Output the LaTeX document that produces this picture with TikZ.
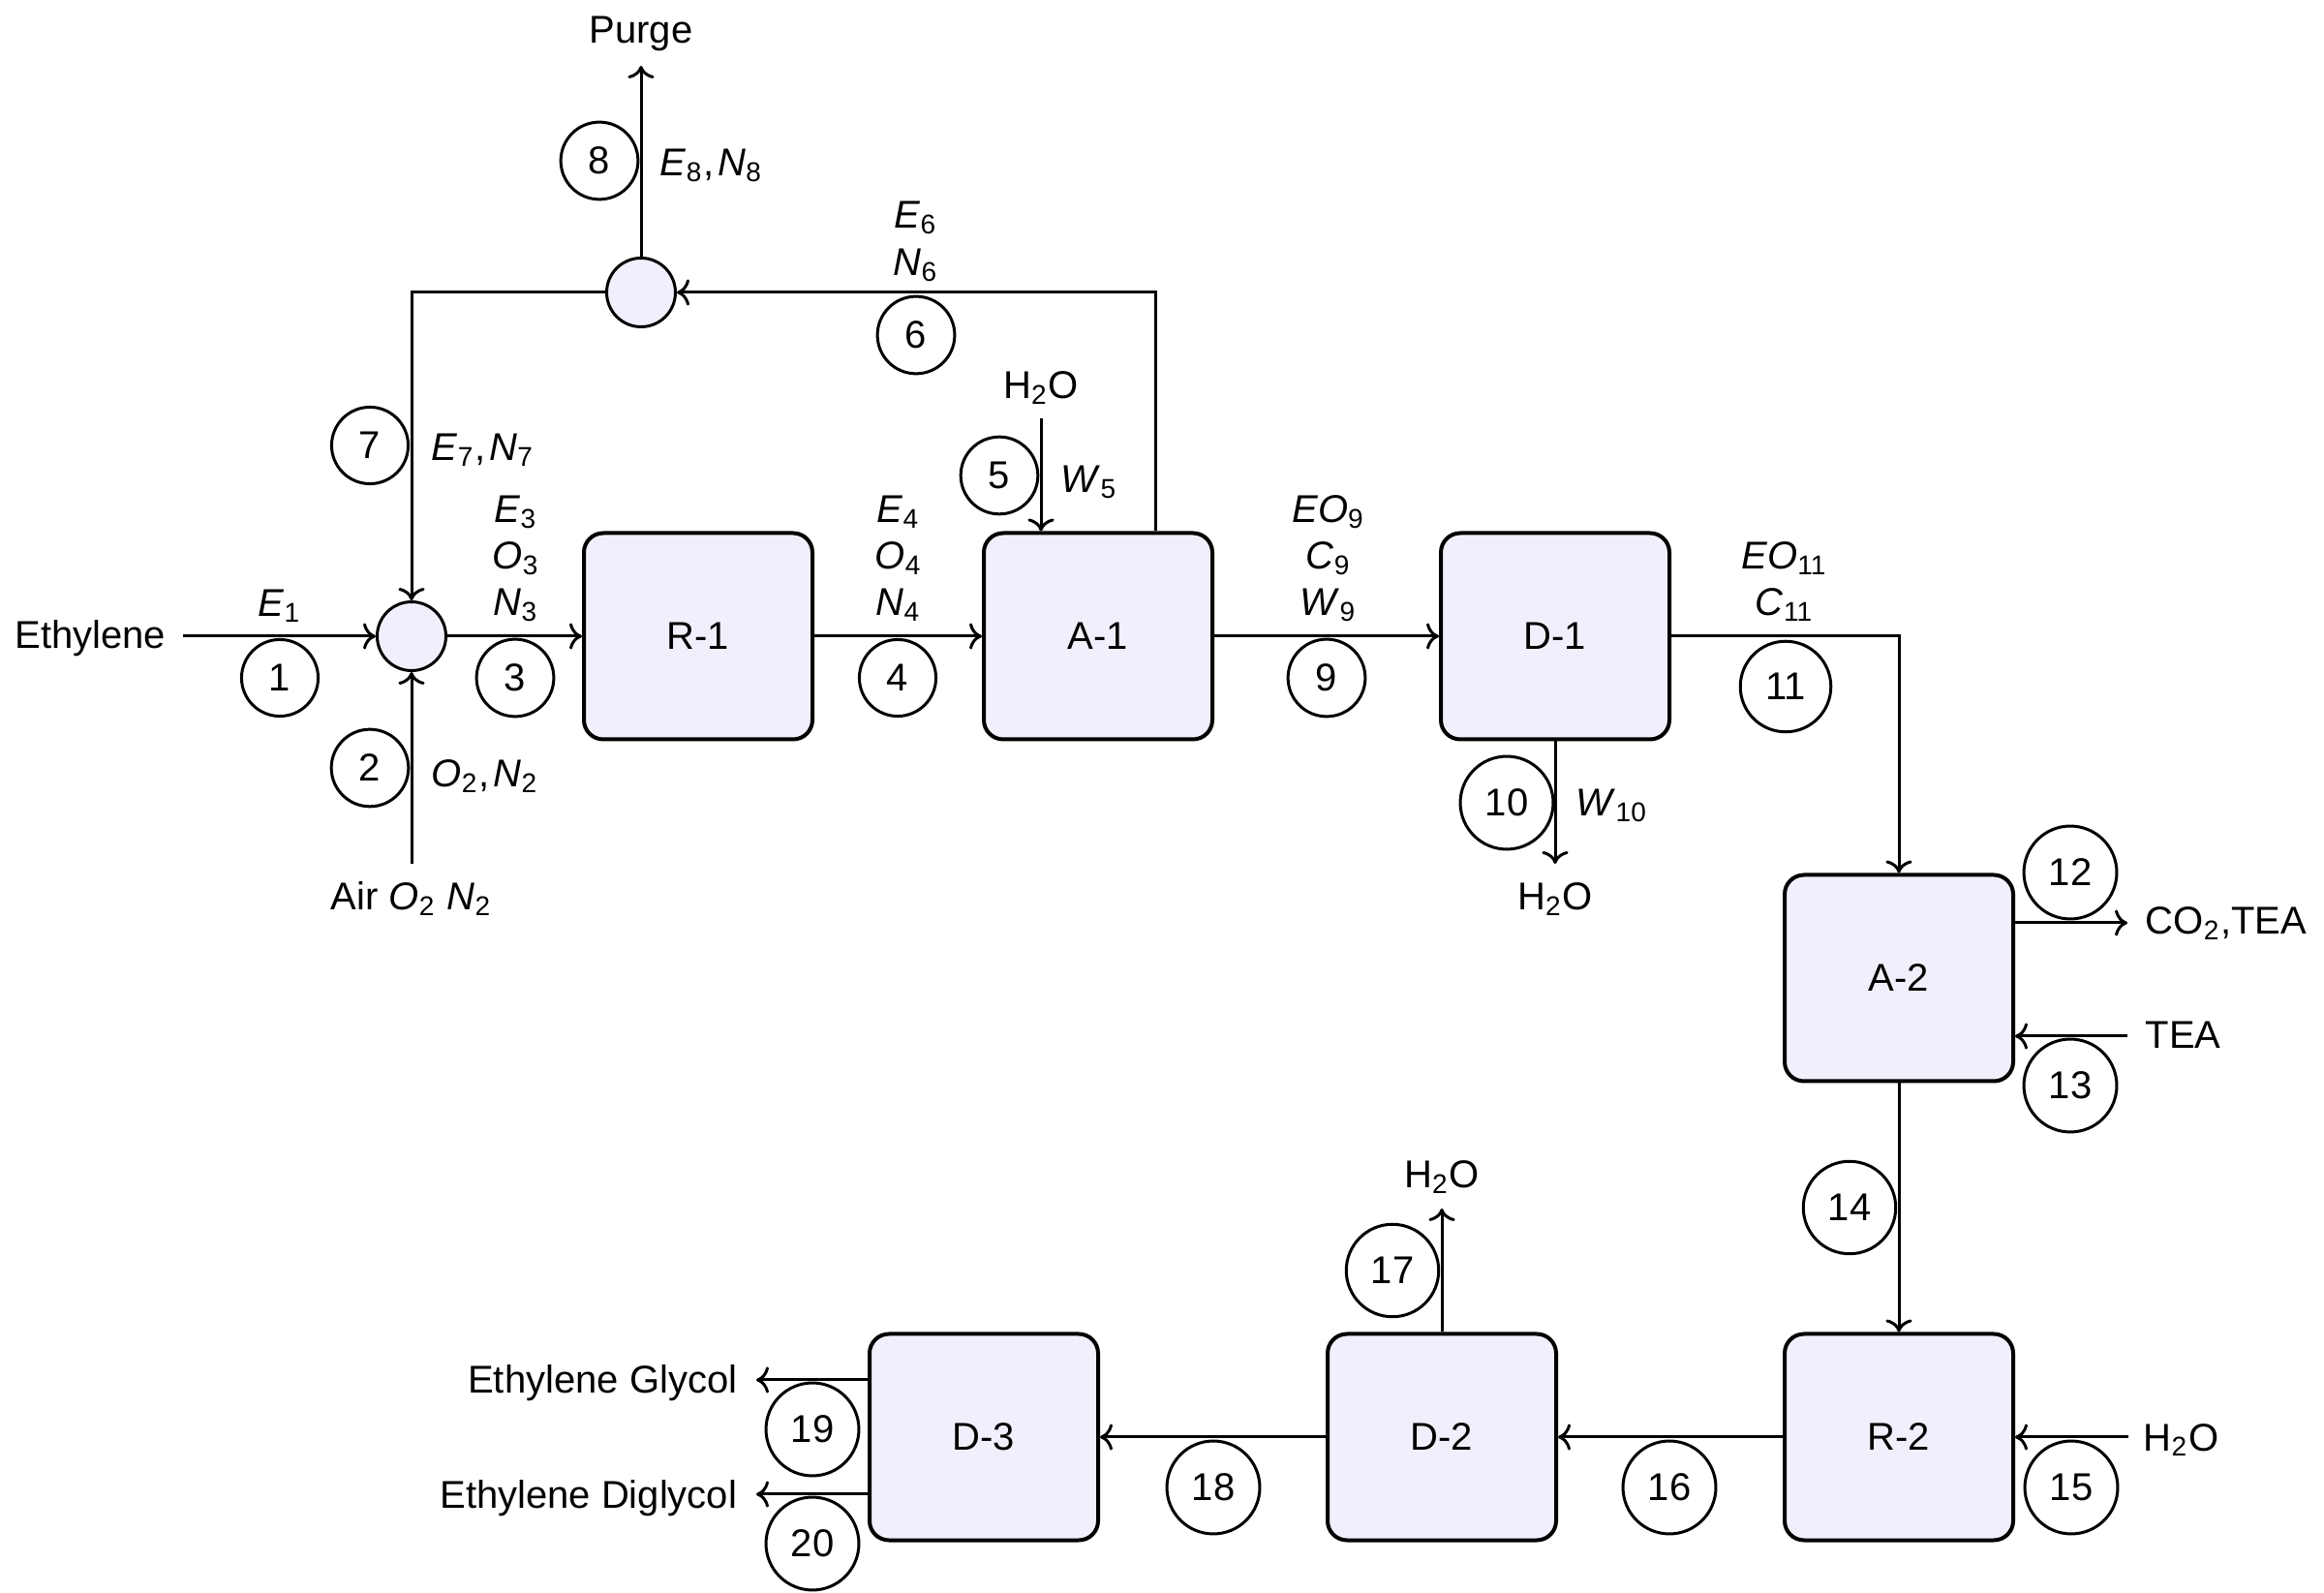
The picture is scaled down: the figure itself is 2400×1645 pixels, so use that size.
\documentclass[tikz,border=0pt]{standalone}
\usepackage{fontspec}
\setmainfont{Liberation Sans}
\usetikzlibrary{arrows.meta}
\newcommand{\V}[2]{\textit{#1}\textsubscript{#2}}
\definecolor{boxfill}{RGB}{240,240,252}
\begin{document}
\begin{tikzpicture}[x=0.25pt,y=-0.25pt,
  unit/.style={draw,fill=boxfill,rounded corners=5pt,line width=1pt,minimum width=59pt,minimum height=53.25pt,inner sep=0pt},
  junc/.style={draw,fill=boxfill,circle,line width=0.75pt,minimum size=17.75pt,inner sep=0pt},
  sc/.style={draw,circle,line width=0.75pt,inner sep=3.9pt},
  flow/.style={->,line width=0.75pt},
  pipe/.style={line width=0.75pt},
  lbl/.style={inner sep=0pt},
]
\useasboundingbox (0,0) rectangle (2400,1645);
% units
\node[unit] (R1) at (721,657) {R-1};
\node[unit] (A1) at (1134,657) {A-1};
\node[unit] (D1) at (1606,657) {D-1};
\node[unit] (A2) at (1961,1010) {A-2};
\node[unit] (R2) at (1961,1484) {R-2};
\node[unit] (D2) at (1489,1484) {D-2};
\node[unit] (D3) at (1016,1484) {D-3};
\node[junc] (mix) at (425,657) {};
\node[junc] (spl) at (662,302) {};
% free ends
\coordinate (in1) at (189,657);
\coordinate (in2) at (425,892);
\coordinate (out8) at (662,68);
\coordinate (in5) at (1075,432);
\coordinate (c6) at (1193,302);
\coordinate (out10) at (1606,892);
\coordinate (out12) at (2197,953);
\coordinate (in13) at (2197,1070);
\coordinate (in15) at (2198,1484);
\coordinate (out17) at (1489,1248);
\coordinate (out19) at (781,1425);
\coordinate (out20) at (781,1543);
% connectors
\draw[flow] (in1) -- (mix);
\draw[flow] (in2) -- (mix);
\draw[flow] (mix) -- (R1);
\draw[flow] (R1) -- (A1);
\draw[flow] (in5) -- (in5 |- A1.north);
\draw[flow] (A1.north -| c6) -- (c6) -- (spl);
\draw[flow] (spl.west) -| (mix.north);
\draw[flow] (spl) -- (out8);
\draw[flow] (A1) -- (D1);
\draw[flow] (D1.south) -- (out10);
\draw[flow] (D1.east) -| (A2.north);
\draw[flow] (out12 -| A2.east) -- (out12);
\draw[flow] (in13) -- (in13 -| A2.east);
\draw[flow] (A2) -- (R2);
\draw[flow] (in15) -- (R2);
\draw[flow] (R2) -- (D2);
\draw[flow] (D2.north) -- (out17);
\draw[flow] (D2) -- (D3);
\draw[flow] (out19 -| D3.west) -- (out19);
\draw[flow] (out20 -| D3.west) -- (out20);
% stream numbers
\node[sc] (s1) at (289,700) {1};
\node[sc] (s2) at (382,793) {2};
\node[sc] (s3) at (532,700) {3};
\node[sc] (s4) at (927,700) {4};
\node[sc] (s5) at (1032,491) {5};
\node[sc] (s6) at (946,346) {6};
\node[sc] (s7) at (382,460) {7};
\node[sc] (s8) at (619,166) {8};
\node[sc] (s9) at (1370,700) {9};
\node[sc] (s10) at (1556,829) {10};
\node[sc] (s11) at (1844,709) {11};
\node[sc] (s12) at (2138,901) {12};
\node[sc] (s13) at (2138,1121) {13};
\node[sc] (s14) at (1910,1247) {14};
\node[sc] (s15) at (2139,1536) {15};
\node[sc] (s16) at (1724,1536) {16};
\node[sc] (s17) at (1438,1312) {17};
\node[sc] (s18) at (1253,1536) {18};
\node[sc] (s19) at (839,1476) {19};
\node[sc] (s20) at (839,1594) {20};
% texts
\node[lbl,anchor=base east] (tEth) at (172,670) {Ethylene};
\node[lbl,anchor=base] (tAir) at (425,940) {Air \V{O}{2} \V{N}{2}};
\node[lbl,anchor=base] (tPurge) at (662,45) {Purge};
\node[lbl,anchor=base] (t5) at (1075,412) {H\textsubscript{2}O};
\node[lbl,anchor=base] (t10) at (1606,940) {H\textsubscript{2}O};
\node[lbl,anchor=base west] (t12) at (2215,965) {CO\textsubscript{2},TEA};
\node[lbl,anchor=base west] (t13) at (2215,1083) {TEA};
\node[lbl,anchor=base west] (t15) at (2213,1498) {H\textsubscript{2}O};
\node[lbl,anchor=base] (t17) at (1489,1227) {H\textsubscript{2}O};
\node[lbl,anchor=base east] (t19) at (762,1438) {Ethylene Glycol};
\node[lbl,anchor=base east] (t20) at (762,1557) {Ethylene Diglycol};
% variable labels
\node[lbl,anchor=base] (v1) at (289,637) {\V{E}{1}};
\node[lbl,anchor=base] (v3a) at (533,540) {\V{E}{3}};
\node[lbl,anchor=base] (v3b) at (533,588) {\V{O}{3}};
\node[lbl,anchor=base] (v3c) at (533,636) {\V{N}{3}};
\node[lbl,anchor=base] (v4a) at (928,540) {\V{E}{4}};
\node[lbl,anchor=base] (v4b) at (928,588) {\V{O}{4}};
\node[lbl,anchor=base] (v4c) at (928,636) {\V{N}{4}};
\node[lbl,anchor=base] (v6a) at (946,236) {\V{E}{6}};
\node[lbl,anchor=base] (v6b) at (946,285) {\V{N}{6}};
\node[lbl,anchor=base] (v9a) at (1372,540) {\V{EO}{9}};
\node[lbl,anchor=base] (v9b) at (1372,588) {\V{C}{9}};
\node[lbl,anchor=base] (v9c) at (1372,636) {\V{W}{9}};
\node[lbl,anchor=base] (v11a) at (1843,588) {\V{EO}{11}};
\node[lbl,anchor=base] (v11b) at (1843,636) {\V{C}{11}};
\node[lbl,anchor=base west] (v7) at (445,476) {\V{E}{7},\kern1pt\V{N}{7}};
\node[lbl,anchor=base west] (v2) at (445,813) {\V{O}{2},\kern1pt\V{N}{2}};
\node[lbl,anchor=base west] (v8) at (681,182) {\V{E}{8},\kern1pt\V{N}{8}};
\node[lbl,anchor=base west] (v5) at (1095,509) {\V{W}{5}};
\node[lbl,anchor=base west] (v10) at (1627,843) {\V{W}{10}};
\end{tikzpicture}
\end{document}
